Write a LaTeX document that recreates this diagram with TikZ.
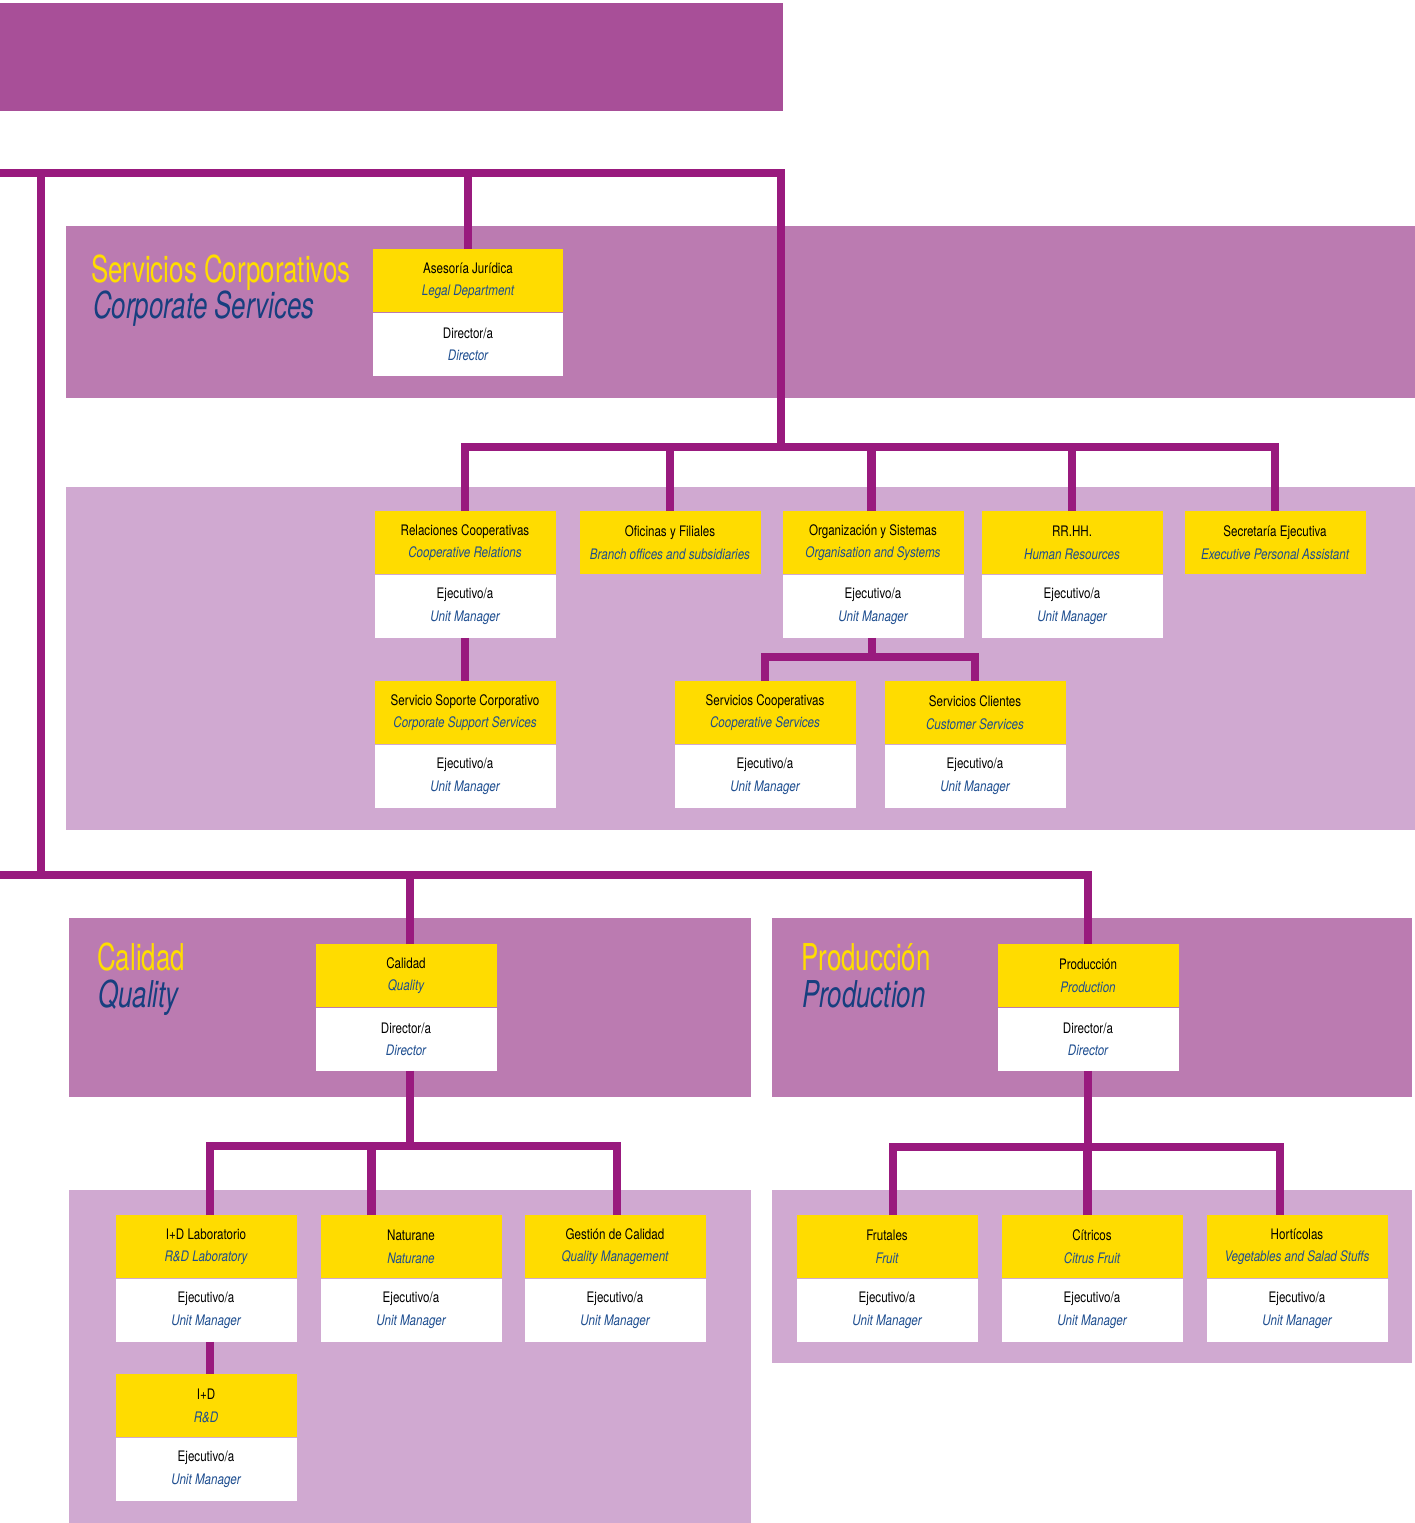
\documentclass[tikz,border=0pt]{standalone}
\usepackage{fontspec}
\setmainfont{TeX Gyre Heros}[FakeStretch=0.8]
\newfontfamily\headfont{TeX Gyre Heros}[FakeStretch=0.7]
\definecolor{topbar}{HTML}{A84F98}
\definecolor{panelD}{HTML}{BB7BB1}
\definecolor{panelL}{HTML}{D0A9D1}
\definecolor{lineC}{HTML}{991A7E}
\definecolor{boxY}{HTML}{FFDC00}
\definecolor{txtB}{HTML}{1E4E90}
\definecolor{headY}{HTML}{FFDD00}
\definecolor{headB}{HTML}{173F7F}
\newcommand\en[1]{{\color{txtB}\itshape #1}}
\begin{document}
\begin{tikzpicture}[x=1pt,y=-1pt,
  ybox/.style={fill=boxY, minimum width=181pt, minimum height=63pt, inner sep=0pt,
    align=center, font=\fontsize{14.5}{22.5}\selectfont, text=black, anchor=north},
  wbox/.style={ybox, fill=white},
  conn/.style={draw=lineC, line width=8.5pt},
  hd/.style={anchor=base west, inner sep=0pt, font=\headfont\fontsize{37}{40}\selectfont, text=headY},
  hdE/.style={anchor=base west, inner sep=0pt, font=\headfont\itshape\fontsize{37}{40}\selectfont, text=headB}]
\useasboundingbox (0,0) rectangle (1415,1523);

% panels
\fill[topbar] (0,3) rectangle (783,111);
\fill[panelD] (66,226) rectangle (1415,398);
\fill[panelL] (66,487) rectangle (1415,830);
\fill[panelD] (69,918) rectangle (751,1097);
\fill[panelD] (772,918) rectangle (1412,1097);
\fill[panelL] (69,1190) rectangle (751,1523);
\fill[panelL] (772,1190) rectangle (1412,1363);

% headings
\node[hd] (hCS) at (91,282) {Servicios Corporativos};
\node[hdE] (hCSen) at (93,318) {Corporate Services};
\node[hd] (hQ) at (97,970) {Calidad};
\node[hdE] (hQen) at (98,1007) {Quality};
\node[hd] (hP) at (801,970) {Producción};
\node[hdE] (hPen) at (802,1007) {Production};

% corporate services
\node[ybox, minimum width=190pt] (asesoria) at (468,249) {Asesoría Jurídica\\\en{Legal Department}};
\node[wbox, minimum width=190pt] (asesoriaW) at (asesoria.south) {Director/a\\\en{Director}};

\node[ybox] (relac) at (465,511) {Relaciones Cooperativas\\\en{Cooperative Relations}};
\node[wbox] (relacW) at (relac.south) {Ejecutivo/a\\\en{Unit Manager}};
\node[ybox] (ofic) at (670,511) {Oficinas y Filiales\\\en{Branch offices and subsidiaries}};
\node[ybox] (organiz) at (873,511) {Organización y Sistemas\\\en{Organisation and Systems}};
\node[wbox] (organizW) at (organiz.south) {Ejecutivo/a\\\en{Unit Manager}};
\node[ybox] (rrhh) at (1072,511) {RR.HH.\\\en{Human Resources}};
\node[wbox] (rrhhW) at (rrhh.south) {Ejecutivo/a\\\en{Unit Manager}};
\node[ybox] (secre) at (1275,511) {Secretaría Ejecutiva\\\en{Executive Personal Assistant}};

\node[ybox] (soporte) at (465,681) {Servicio Soporte Corporativo\\\en{Corporate Support Services}};
\node[wbox] (soporteW) at (soporte.south) {Ejecutivo/a\\\en{Unit Manager}};
\node[ybox] (servcoop) at (765,681) {Servicios Cooperativas\\\en{Cooperative Services}};
\node[wbox] (servcoopW) at (servcoop.south) {Ejecutivo/a\\\en{Unit Manager}};
\node[ybox] (servcli) at (975,681) {Servicios Clientes\\\en{Customer Services}};
\node[wbox] (servcliW) at (servcli.south) {Ejecutivo/a\\\en{Unit Manager}};

% quality
\node[ybox] (calidad) at (406,944) {Calidad\\\en{Quality}};
\node[wbox] (calidadW) at (calidad.south) {Director/a\\\en{Director}};
\node[ybox] (idlab) at (206,1215) {I+D Laboratorio\\\en{R\&D Laboratory}};
\node[wbox] (idlabW) at (idlab.south) {Ejecutivo/a\\\en{Unit Manager}};
\node[ybox] (naturane) at (411,1215) {Naturane\\\en{Naturane}};
\node[wbox] (naturaneW) at (naturane.south) {Ejecutivo/a\\\en{Unit Manager}};
\node[ybox] (gestion) at (615,1215) {Gestión de Calidad\\\en{Quality Management}};
\node[wbox] (gestionW) at (gestion.south) {Ejecutivo/a\\\en{Unit Manager}};
\node[ybox] (idd) at (206,1374) {I+D\\\en{R\&D}};
\node[wbox] (iddW) at (idd.south) {Ejecutivo/a\\\en{Unit Manager}};

% production
\node[ybox] (prod) at (1088,944) {Producción\\\en{Production}};
\node[wbox] (prodW) at (prod.south) {Director/a\\\en{Director}};
\node[ybox] (frut) at (887,1215) {Frutales\\\en{Fruit}};
\node[wbox] (frutW) at (frut.south) {Ejecutivo/a\\\en{Unit Manager}};
\node[ybox] (citr) at (1092,1215) {Cítricos\\\en{Citrus Fruit}};
\node[wbox] (citrW) at (citr.south) {Ejecutivo/a\\\en{Unit Manager}};
\node[ybox] (hort) at (1297,1215) {Hortícolas\\\en{Vegetables and Salad Stuffs}};
\node[wbox] (hortW) at (hort.south) {Ejecutivo/a\\\en{Unit Manager}};

% connectors
\coordinate (c0) at (0,173);
\coordinate (hub1) at (781,447);
\coordinate (lv) at (41,173);
\coordinate (c1) at (0,875);
\coordinate (hub2) at (872,657);
\coordinate (hub3) at (410,1146);
\coordinate (hub4) at (1088,1147);

\draw[conn] (c0) -| (hub1);
\draw[conn] (lv) -- (lv |- c1);
\draw[conn] (asesoria.north) -- (asesoria.north |- c0);
\draw[conn] (relac.north) |- (hub1) -| (secre.north);
\draw[conn] (ofic.north) -- (ofic.north |- hub1);
\draw[conn] ([xshift=-1.5pt]organiz.north) -- ([xshift=-1.5pt]organiz.north |- hub1);
\draw[conn] (rrhh.north) -- (rrhh.north |- hub1);
\draw[conn] (relacW.south) -- (soporte.north);
\draw[conn] ([xshift=-1pt]organizW.south) -- ([xshift=-1pt]organizW.south |- hub2);
\draw[conn] (servcoop.north) |- (hub2) -| (servcli.north);

\draw[conn] (c1) -| (prod.north);
\draw[conn] ([xshift=4pt]calidad.north) -- ([xshift=4pt]calidad.north |- c1);
\draw[conn] ([xshift=4pt]calidadW.south) -- (hub3);
\draw[conn] ([xshift=4pt]idlab.north) |- (hub3) -| ([xshift=2pt]gestion.north);
\draw[conn] ([xshift=-39.5pt]naturane.north) -- ([xshift=-39.5pt]naturane.north |- hub3);
\draw[conn] ([xshift=4pt]idlabW.south) -- ([xshift=4pt]idd.north);

\draw[conn] (prodW.south) -- (hub4);
\draw[conn] ([xshift=6pt]frut.north) |- (hub4) -| ([xshift=-17pt]hort.north);
\draw[conn] ([xshift=-4.5pt]citr.north) -- ([xshift=-4.5pt]citr.north |- hub4);
\end{tikzpicture}
\end{document}
